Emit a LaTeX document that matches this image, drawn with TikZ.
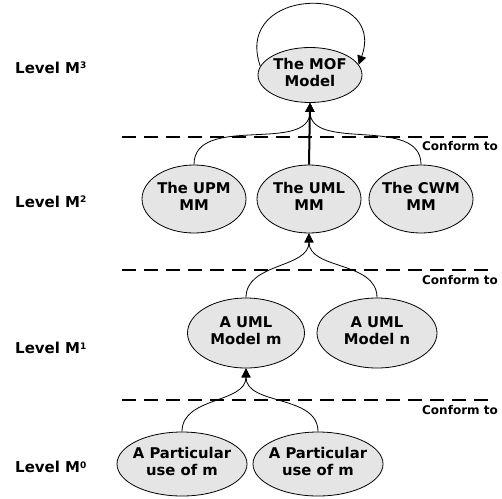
\documentclass[tikz,border=0pt]{standalone}
\usepackage{fontspec}
\setmainfont{DejaVu Sans}
\usetikzlibrary{shapes.geometric,arrows.meta}
\newcommand{\lvlsup}[1]{\raisebox{4.6pt}{\fontsize{9}{9}\selectfont #1}}
% two centred lines that leave the ellipse size to minimum width/height
\newcommand{\twoline}[2]{\makebox[0pt]{\begin{tabular}{@{}c@{}}#1\\#2\end{tabular}}}
\begin{document}
\begin{tikzpicture}[x=1pt,y=-1pt,
  model/.style={ellipse,draw,fill=black!10,line width=0.8pt,inner sep=0pt,
    font=\fontsize{14.8}{17}\selectfont\bfseries},
  levellabel/.style={anchor=west,inner sep=0pt,font=\fontsize{15}{17}\selectfont\bfseries},
  conformlabel/.style={inner sep=0pt,font=\fontsize{12}{14}\selectfont\bfseries},
  levelsep/.style={line width=1.6pt,dash pattern=on 14pt off 8pt},
  conn/.style={line width=0.8pt,-{Triangle[length=9pt,width=9pt]}},
  strongconn/.style={line width=2pt,-{Triangle[length=9pt,width=9pt]}}]
\useasboundingbox (0,0) rectangle (502,498);

% level labels
\node[levellabel] (l3) at (15,68) {Level M\lvlsup{3}};
\node[levellabel] (l2) at (15,202) {Level M\lvlsup{2}};
\node[levellabel] (l1) at (15,348) {Level M\lvlsup{1}};
\node[levellabel] (l0) at (15,467) {Level M\lvlsup{0}};

% separators between levels
\coordinate (s1a) at (122,137); \coordinate (s1b) at (490,137);
\coordinate (s2a) at (122,270); \coordinate (s2b) at (490,270);
\coordinate (s3a) at (122,400); \coordinate (s3b) at (490,400);
\draw[levelsep] (s1a) -- (s1b);
\draw[levelsep] (s2a) -- (s2b);
\draw[levelsep] (s3a) -- (s3b);
\node[conformlabel] (c1) at (460,146) {Conform to};
\node[conformlabel] (c2) at (460,280) {Conform to};
\node[conformlabel] (c3) at (460,410) {Conform to};

% models
\node[model,minimum width=104pt,minimum height=55pt] (mof) at (310,75) {\twoline{The MOF}{Model}};
\node[model,minimum width=104pt,minimum height=68pt] (upm) at (194,199) {\twoline{The UPM}{MM}};
\node[model,minimum width=104pt,minimum height=68pt] (uml) at (309,199) {\twoline{The UML}{MM}};
\node[model,minimum width=104pt,minimum height=68pt] (cwm) at (421,199) {\twoline{The CWM}{MM}};
\node[model,minimum width=117pt,minimum height=70pt] (mm) at (246,333) {\twoline{A UML}{Model m}};
\node[model,minimum width=120pt,minimum height=70pt] (mn) at (377,333) {\twoline{A UML}{Model n}};
\node[model,minimum width=130pt,minimum height=64pt] (pa) at (182,464) {\twoline{A Particular}{use of m}};
\node[model,minimum width=130pt,minimum height=64pt] (pb) at (318,464) {\twoline{A Particular}{use of m}};

% conformance relations
\draw[conn] (mof.170) .. controls (232,-16) and (388,-16) .. (mof.12);
\draw[conn] (upm.north) to[out=90,in=-90] (mof.south);
\draw[conn] (cwm.north) to[out=90,in=-90] (mof.south);
\draw[strongconn] (uml.north) -- (mof.south);
\draw[conn] (mm.north) to[out=90,in=-90] (uml.south);
\draw[conn] (mn.north) to[out=90,in=-90] (uml.south);
\draw[conn] (pa.north) to[out=90,in=-90] (mm.south);
\draw[conn] (pb.north) to[out=90,in=-90] (mm.south);
\end{tikzpicture}
\end{document}
